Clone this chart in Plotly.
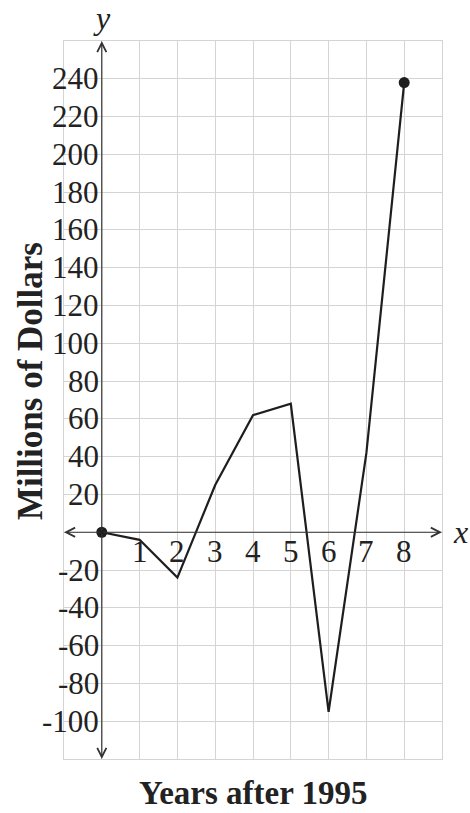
import plotly.graph_objects as go

years = [0, 1, 2, 3, 4, 5, 6, 7, 8]
millions = [0, -4, -24, 25, 62, 68, -95, 42, 238]
x_ticks = [1, 2, 3, 4, 5, 6, 7, 8]
y_ticks = [-100, -80, -60, -40, -20, 20, 40, 60, 80, 100, 120, 140, 160, 180, 200, 220, 240]
x_range = [-1, 9]
y_range = [-120, 260]

FONT = "Liberation Serif"
GRID = "#d4d4d4"
AX = "#333333"

fig = go.Figure()
fig.add_trace(go.Scatter(x=years, y=millions, mode="lines",
                         line=dict(color="#1e1e1e", width=2.2), hoverinfo="skip",
                         showlegend=False))
fig.add_trace(go.Scatter(x=[years[0], years[-1]], y=[millions[0], millions[-1]],
                         mode="markers", marker=dict(color="#1e1e1e", size=11),
                         showlegend=False, hoverinfo="skip"))

ann = []
# axes with arrows
for (xe, ye) in [(x_range[1], 0), (x_range[0], 0), (0, y_range[1]), (0, y_range[0])]:
    ann.append(dict(x=xe, y=ye, ax=0, ay=0, xref="x", yref="y", axref="x", ayref="y",
                    showarrow=True, arrowhead=5, arrowsize=1.5, arrowwidth=1.2,
                    arrowcolor=AX, text=""))
# tick labels
for v in x_ticks:
    ann.append(dict(x=v, y=0, xref="x", yref="y", text=str(v), showarrow=False,
                    xanchor="center", yanchor="top", yshift=0,
                    font=dict(family=FONT, size=31, color="#222")))
for v in y_ticks:
    ann.append(dict(x=0, y=v, xref="x", yref="y", text=str(v), showarrow=False,
                    xanchor="right", yanchor="middle", xshift=-1,
                    font=dict(family=FONT, size=31, color="#222")))
# axis letters
ann.append(dict(x=0, y=1, xref="x", yref="paper", yshift=23, text="<i>y</i>",
                showarrow=False, xanchor="center", yanchor="middle",
                font=dict(family=FONT, size=32, color="#222")))
ann.append(dict(x=1, y=0, xref="paper", yref="y", xshift=18, text="<i>x</i>",
                showarrow=False, xanchor="center", yanchor="middle",
                font=dict(family=FONT, size=32, color="#222")))
# titles
ann.append(dict(x=0, y=80, xref="paper", yref="y", xshift=-34, text="<b>Millions of Dollars</b>",
                textangle=-90, showarrow=False, xanchor="center", yanchor="middle",
                font=dict(family=FONT, size=35, color="#222")))
ann.append(dict(x=0.5, y=0, xref="paper", yref="paper", yshift=-34, text="<b>Years after 1995</b>",
                showarrow=False, xanchor="center", yanchor="middle",
                font=dict(family=FONT, size=33, color="#222")))

fig.update_layout(
    width=470, height=813,
    margin=dict(l=64, r=28, t=41, b=54),
    paper_bgcolor="white", plot_bgcolor="white",
    xaxis=dict(range=x_range, dtick=1, tick0=0, showgrid=True, gridcolor=GRID, gridwidth=1.3,
               zeroline=False, showticklabels=False, showline=True, mirror=True,
               linecolor=GRID, linewidth=1.3, ticks=""),
    yaxis=dict(range=y_range, dtick=20, tick0=0, showgrid=True, gridcolor=GRID, gridwidth=1.3,
               zeroline=False, showticklabels=False, showline=True, mirror=True,
               linecolor=GRID, linewidth=1.3, ticks=""),
    annotations=ann,
)
fig.write_html("out.html", config={"displayModeBar": False},
               post_script="document.body.style.margin='0';document.body.style.overflow='hidden';")
